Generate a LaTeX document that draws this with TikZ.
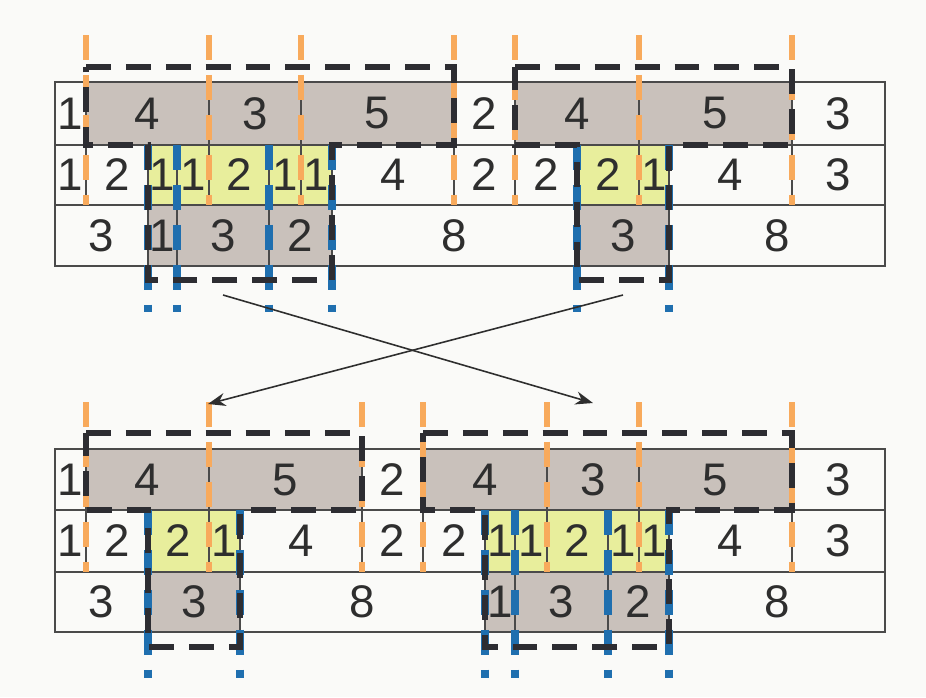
\documentclass[tikz,border=0pt]{standalone}
\usepackage{fontspec}
\setmainfont{Liberation Sans}
\usetikzlibrary{arrows.meta}
\definecolor{BgWhite}{HTML}{FAFAF8}
\definecolor{CellGray}{HTML}{C9C1BB}
\definecolor{CellYellow}{HTML}{E8EE9C}
\definecolor{CutOrange}{HTML}{F8AA5C}
\definecolor{CutBlue}{HTML}{1F6FAF}
\definecolor{OutlineBlack}{HTML}{2D2D32}
\definecolor{GridGray}{HTML}{4A4A4A}
\definecolor{DigitGray}{HTML}{2E2E2E}
\tikzset{
  cell/.style={draw=GridGray, line width=0.9pt, inner sep=0pt, outer sep=0pt, font=\fontsize{26}{30}\selectfont, text=DigitGray},
  orangecut/.style={draw=CutOrange, line width=3.4pt, dash pattern=on 14.2pt off 8.5pt},
  bluecut/.style={draw=CutBlue, line width=4pt, dash pattern=on 14.2pt off 8.5pt},
  tframe/.style={draw=OutlineBlack, line width=3.9pt, dash pattern=on 14.2pt off 8.5pt, miter limit=2},
  arr/.style={-{Stealth[length=10pt, width=7.5pt]}, line width=0.9pt, draw=DigitGray}
}
\begin{document}
\begin{tikzpicture}[x=0.02cm, y=-0.02cm]
\fill[BgWhite] (0,0) rectangle (926,697);
\useasboundingbox (0,0) rectangle (926,697);

% upper table
\foreach \a/\b/\t/\f [count=\i] in {55/86/1/BgWhite, 86/209/4/CellGray, 209/301/3/CellGray, 301/454/5/CellGray, 454/515/2/BgWhite, 515/639/4/CellGray, 639/792/5/CellGray, 792/885/3/BgWhite}
  \node[cell, fill=\f, minimum width={(\b-\a)*0.02cm}, minimum height=1.26cm] (ua\i) at ({(\a+\b)/2}, 113.5) {\t};
\foreach \a/\b/\t/\f [count=\i] in {55/86/1/BgWhite, 86/148/2/BgWhite, 148/177/1/CellYellow, 177/209/1/CellYellow, 209/269/2/CellYellow, 269/301/1/CellYellow, 301/332/1/CellYellow, 332/454/4/BgWhite, 454/515/2/BgWhite, 515/577/2/BgWhite, 577/639/2/CellYellow, 639/669/1/CellYellow, 669/792/4/BgWhite, 792/885/3/BgWhite}
  \node[cell, fill=\f, minimum width={(\b-\a)*0.02cm}, minimum height=1.2cm] (ub\i) at ({(\a+\b)/2}, 175) {\t};
\foreach \a/\b/\t/\f [count=\i] in {55/148/3/BgWhite, 148/177/1/CellGray, 177/269/3/CellGray, 269/332/2/CellGray, 332/577/8/BgWhite, 577/669/3/CellGray, 669/885/8/BgWhite}
  \node[cell, fill=\f, minimum width={(\b-\a)*0.02cm}, minimum height=1.22cm] (uc\i) at ({(\a+\b)/2}, 235.5) {\t};

\foreach \x in {86,209,301,454,515,639,792}
  \draw[orangecut] (\x,35) -- (\x,205);
\foreach \x in {148,177,269,332,577,669}
  \draw[bluecut] (\x,145) -- (\x,312);
\draw[tframe] (86,67) -- (454,67) -- (454,145) -- (332,145) -- (332,280) -- (148,280) -- (148,145) -- (86,145) -- cycle;
\draw[tframe] (515,67) -- (792,67) -- (792,145) -- (669,145) -- (669,280) -- (577,280) -- (577,145) -- (515,145) -- cycle;

% lower table
\foreach \a/\b/\t/\f [count=\i] in {55/86/1/BgWhite, 86/209/4/CellGray, 209/362/5/CellGray, 362/423/2/BgWhite, 423/547/4/CellGray, 547/639/3/CellGray, 639/792/5/CellGray, 792/885/3/BgWhite}
  \node[cell, fill=\f, minimum width={(\b-\a)*0.02cm}, minimum height=1.22cm] (la\i) at ({(\a+\b)/2}, 479.5) {\t};
\foreach \a/\b/\t/\f [count=\i] in {55/86/1/BgWhite, 86/148/2/BgWhite, 148/209/2/CellYellow, 209/240/1/CellYellow, 240/362/4/BgWhite, 362/423/2/BgWhite, 423/485/2/BgWhite, 485/515/1/CellYellow, 515/547/1/CellYellow, 547/608/2/CellYellow, 608/639/1/CellYellow, 639/669/1/CellYellow, 669/792/4/BgWhite, 792/885/3/BgWhite}
  \node[cell, fill=\f, minimum width={(\b-\a)*0.02cm}, minimum height=1.24cm] (lb\i) at ({(\a+\b)/2}, 541) {\t};
\foreach \a/\b/\t/\f [count=\i] in {55/148/3/BgWhite, 148/240/3/CellGray, 240/485/8/BgWhite, 485/515/1/CellGray, 515/608/3/CellGray, 608/669/2/CellGray, 669/885/8/BgWhite}
  \node[cell, fill=\f, minimum width={(\b-\a)*0.02cm}, minimum height=1.2cm] (lc\i) at ({(\a+\b)/2}, 602) {\t};

\foreach \x in {86,209,362,423,547,639,792}
  \draw[orangecut] (\x,402) -- (\x,572);
\foreach \x in {148,240,485,515,608,669}
  \draw[bluecut] (\x,510) -- (\x,678);
\draw[tframe] (86,433) -- (362,433) -- (362,510) -- (240,510) -- (240,647) -- (148,647) -- (148,510) -- (86,510) -- cycle;
\draw[tframe] (423,433) -- (792,433) -- (792,510) -- (669,510) -- (669,647) -- (485,647) -- (485,510) -- (423,510) -- cycle;

% crossing arrows
\coordinate (leftstart) at (223,295);
\coordinate (rightend) at (593,403);
\coordinate (rightstart) at (623,295);
\coordinate (leftend) at (208,404);
\draw[arr] (leftstart) -- (rightend);
\draw[arr] (rightstart) -- (leftend);
\end{tikzpicture}
\end{document}
